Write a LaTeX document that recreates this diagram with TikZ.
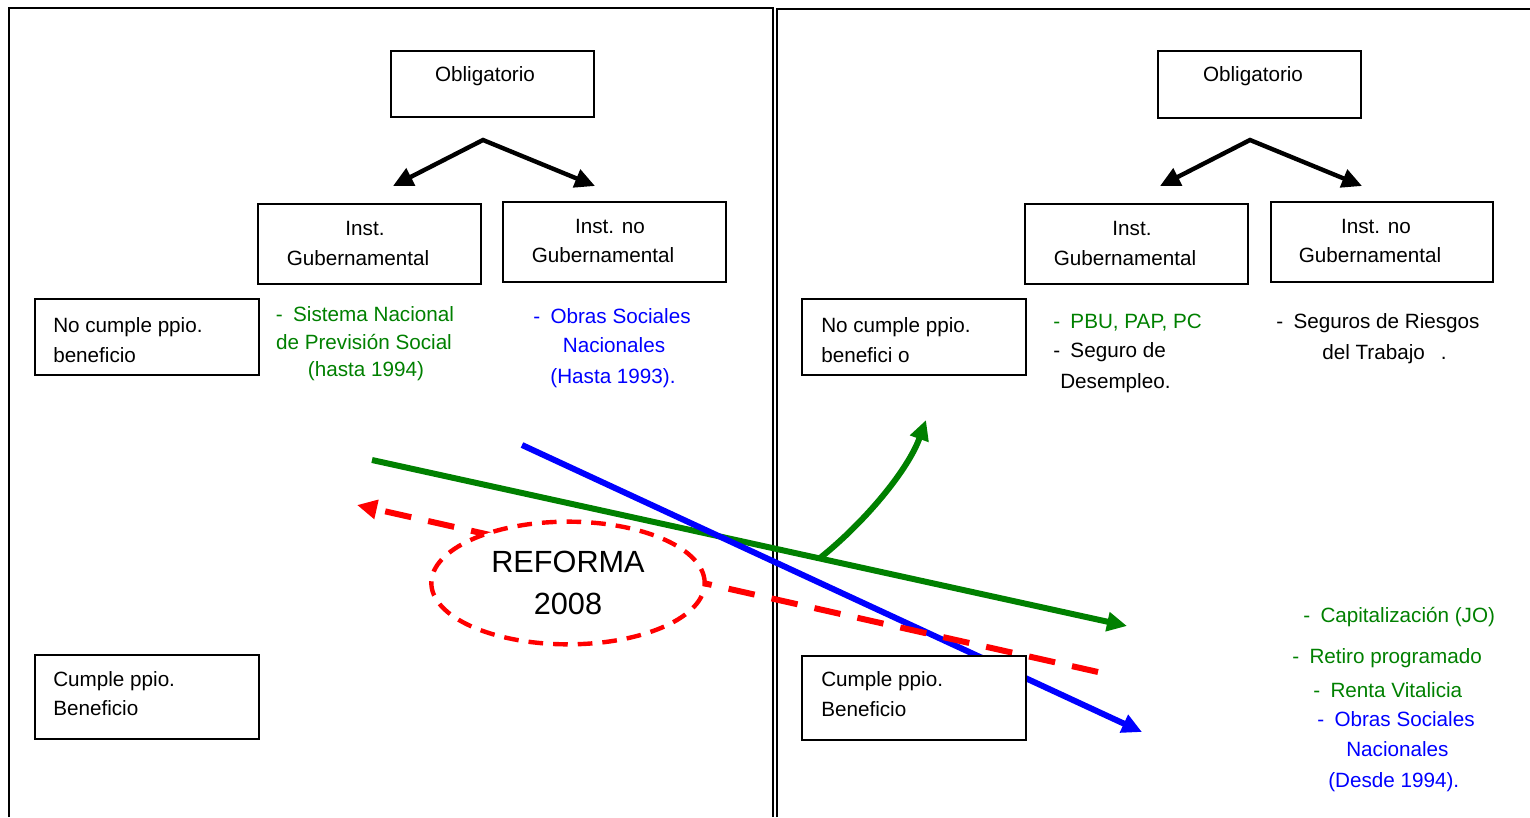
\documentclass[tikz,border=0pt]{standalone}
\usepackage{fontspec}
\setmainfont{Liberation Sans}
\usetikzlibrary{positioning,shapes.geometric,arrows.meta}
\definecolor{govgreen}{HTML}{008000}
\definecolor{privblue}{HTML}{0000FF}
\definecolor{reformred}{HTML}{FF0000}

\begin{document}
\begin{tikzpicture}[x=0.75pt,y=-0.75pt,
    box/.style={draw,line width=1.5pt,fill=white,inner sep=0pt},
    oblbox/.style={box,minimum width=152pt,minimum height=50pt},
    instbox/.style={box,minimum width=167pt,minimum height=60pt},
    ppiobox/.style={box,minimum width=168pt,minimum height=57pt},
    cumbox/.style={box,minimum width=168pt,minimum height=63pt},
    txt/.style={font=\fontsize{15.5}{19}\selectfont,inner sep=0pt},
    fork/.style={{Triangle[length=15pt,width=14pt]}-{Triangle[length=15pt,width=14pt]},line width=3.3pt},
    bigarrow/.style={-{Triangle[length=15pt,width=14pt]},line width=4.5pt}]
    \useasboundingbox (0,0) rectangle (1530,817);

    % Frames
    \draw[line width=1.2pt] (9,817) -- (9,8) -- (773,8) -- (773,817);
    \draw[line width=1.2pt] (777,817) -- (777,9) -- (1530,9);

    % Reform arrows
    \coordinate (greenA) at (372,460);
    \coordinate (greenB) at (1127,626);
    \coordinate (blueA) at (522,445);
    \coordinate (blueB) at (1142,732);
    \coordinate (redA) at (1098,672);
    \coordinate (redB) at (357,505);
    \coordinate (upA) at (820,558);
    \coordinate (upB) at (926,420);
    \draw[bigarrow,govgreen] (greenA) -- (greenB);
    \draw[bigarrow,govgreen] (upA) .. controls (865,522) and (908,470) .. (upB);
    \draw[bigarrow,privblue] (blueA) -- (blueB);
    \draw[bigarrow,reformred,dash pattern=on 20pt off 13pt] (redA) -- (redB);
    \node[ellipse,draw=reformred,fill=white,line width=3.3pt,dash pattern=on 11pt off 7.5pt,
          minimum width=205pt,minimum height=92pt,align=center,
          font=\fontsize{23}{31}\selectfont] (reforma) at (568,583) {REFORMA\\2008};

    % Left: before the reform
    \node[oblbox] (oblL) at (492.5,84) {};
    \node[txt,anchor=base] (oblLt) at (485,82) {Obligatorio};
    \coordinate (forkL) at (483,140);
    \coordinate (forkLa) at (393,186);
    \coordinate (forkLb) at (595,186);
    \draw[fork] (forkLa) -- (forkL) -- (forkLb);
    \node[instbox] (govL) at (369.5,244) {};
    \node[txt,anchor=base] (govLa) at (365,235) {Inst.};
    \node[txt,anchor=base] (govLb) at (358,265) {Gubernamental};
    \node[instbox] (ngovL) at (614.5,242) {};
    \node[txt,anchor=base] (ngovLa) at (610,233) {Inst. no};
    \node[txt,anchor=base] (ngovLb) at (603,262) {Gubernamental};
    \node[ppiobox] (nocL) at (147,336.5) {};
    \node[txt,anchor=base west] (nocLa) at (53,332) {No cumple ppio.};
    \node[txt,anchor=base west] (nocLb) at (53,362) {beneficio};
    \node[cumbox] (cumL) at (147,697) {};
    \node[txt,anchor=base west] (cumLa) at (53,686) {Cumple ppio.};
    \node[txt,anchor=base west] (cumLb) at (53,715) {Beneficio};
    \node[txt,anchor=base,text=govgreen] (snpsA) at (365,321) {-\enspace Sistema Nacional};
    \node[txt,anchor=base,text=govgreen] (snpsB) at (364,349) {de Previsión Social};
    \node[txt,anchor=base,text=govgreen] (snpsC) at (366,376) {(hasta 1994)};
    \node[txt,anchor=base,text=privblue] (osnA) at (612,323) {-\enspace Obras Sociales};
    \node[txt,anchor=base,text=privblue] (osnB) at (614,352) {Nacionales};
    \node[txt,anchor=base,text=privblue] (osnC) at (613,383) {(Hasta 1993).};

    % Right: after the reform
    \node[oblbox] (oblR) at (1259.5,84.5) {};
    \node[txt,anchor=base] (oblRt) at (1253,82) {Obligatorio};
    \coordinate (forkR) at (1250,140);
    \coordinate (forkRa) at (1160,186);
    \coordinate (forkRb) at (1362,186);
    \draw[fork] (forkRa) -- (forkR) -- (forkRb);
    \node[instbox] (govR) at (1136.5,244) {};
    \node[txt,anchor=base] (govRa) at (1132,235) {Inst.};
    \node[txt,anchor=base] (govRb) at (1125,265) {Gubernamental};
    \node[instbox] (ngovR) at (1382,242) {};
    \node[txt,anchor=base] (ngovRa) at (1376,233) {Inst. no};
    \node[txt,anchor=base] (ngovRb) at (1370,262) {Gubernamental};
    \node[ppiobox] (nocR) at (914,337) {};
    \node[txt,anchor=base west] (nocRa) at (821,332) {No cumple ppio.};
    \node[txt,anchor=base west] (nocRb) at (821,362) {benefici o};
    \node[cumbox] (cumR) at (914,697.5) {};
    \node[txt,anchor=base west] (cumRa) at (821,686) {Cumple ppio.};
    \node[txt,anchor=base west] (cumRb) at (821,716) {Beneficio};
    \node[txt,anchor=base west,text=govgreen] (pbu) at (1053,328) {-\enspace PBU, PAP, PC};
    \node[txt,anchor=base west] (segA) at (1053,357) {-\enspace Seguro de};
    \node[txt,anchor=base west] (segB) at (1060,388) {Desempleo.};
    \node[txt,anchor=base west] (artA) at (1276,328) {-\enspace Seguros de Riesgos};
    \node[txt,anchor=base west] (artB) at (1322,359) {del Trabajo\hspace{12pt}.};
    \node[txt,anchor=base west,text=govgreen] (capA) at (1303,622) {-\enspace Capitalización (JO)};
    \node[txt,anchor=base west,text=govgreen] (capB) at (1292,663) {-\enspace Retiro programado};
    \node[txt,anchor=base west,text=govgreen] (capC) at (1313,697) {-\enspace Renta Vitalicia};
    \node[txt,anchor=base west,text=privblue] (osnD) at (1317,726) {-\enspace Obras Sociales};
    \node[txt,anchor=base west,text=privblue] (osnE) at (1346,756) {Nacionales};
    \node[txt,anchor=base west,text=privblue] (osnF) at (1328,787) {(Desde 1994).};
\end{tikzpicture}
\end{document}
